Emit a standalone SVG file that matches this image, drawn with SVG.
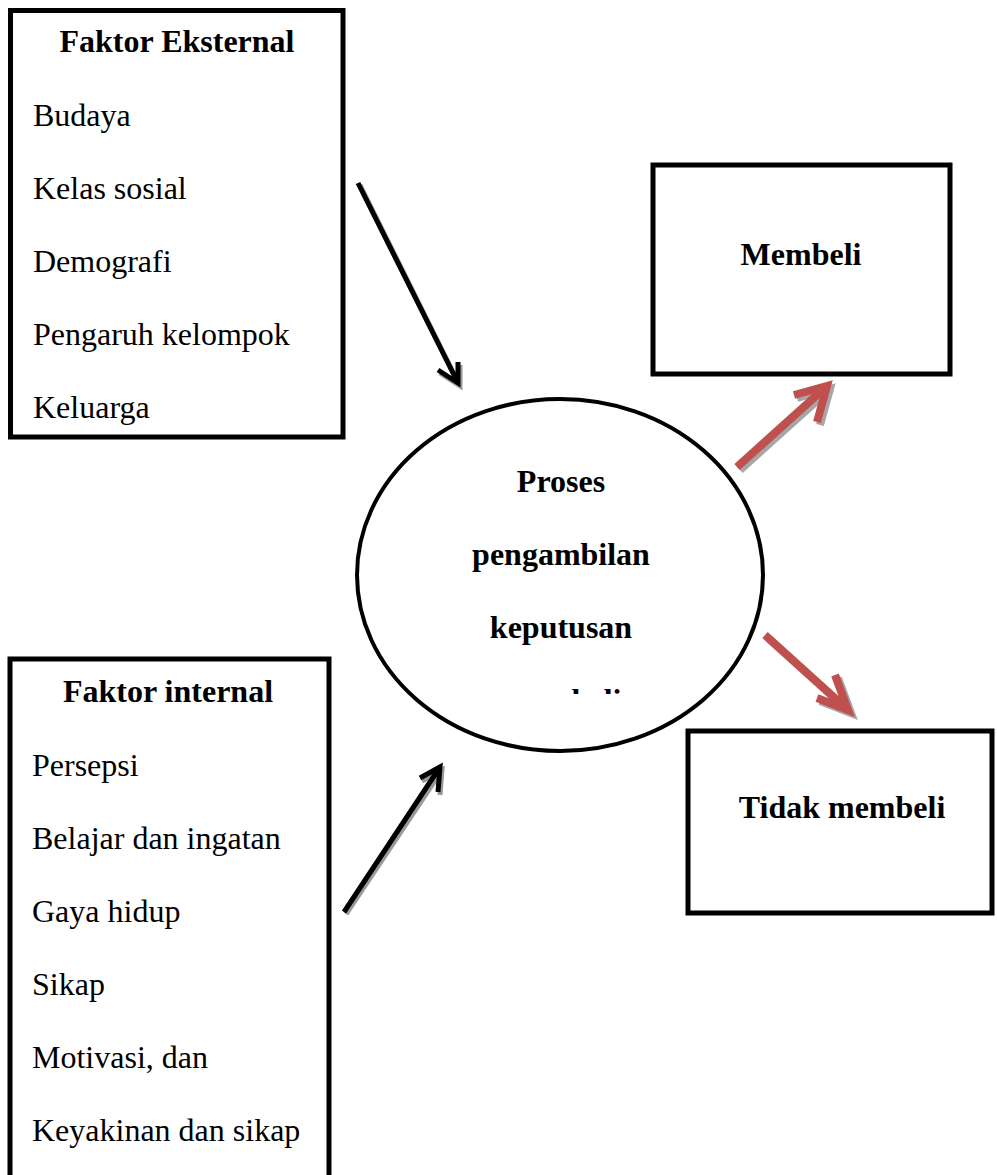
<svg xmlns="http://www.w3.org/2000/svg" width="997" height="1175" viewBox="0 0 997 1175">
<style>
  text { font-family: "Liberation Serif", "Times New Roman", serif; font-size: 32px; fill: #000; }
  .b { font-weight: bold; }
  .mid { text-anchor: middle; }
  .box { fill: #fff; stroke: #000; stroke-width: 5; }
  .blk { fill: none; stroke: #000; stroke-width: 5; stroke-linejoin: miter; stroke-linecap: butt; }
  .blksh { fill: none; stroke: #9a9a9a; stroke-width: 5; stroke-linejoin: miter; }
  .red { fill: none; stroke: #C0504D; stroke-width: 8; stroke-linejoin: miter; stroke-linecap: butt; }
  .redsh { fill: none; stroke: #a6a6a6; stroke-width: 8; stroke-linejoin: miter; }
</style>
<defs>
  <clipPath id="ellText"><rect x="350" y="400" width="420" height="294"/></clipPath>
</defs>
<rect width="997" height="1175" fill="#fff"/>

<g id="external">
  <rect class="box" x="10.5" y="10.5" width="332.5" height="426.5"/>
  <text class="b mid" x="177" y="52">Faktor Eksternal</text>
  <text x="33" y="126">Budaya</text>
  <text x="33" y="199">Kelas sosial</text>
  <text x="33" y="272">Demografi</text>
  <text x="33" y="345">Pengaruh kelompok</text>
  <text x="33" y="418">Keluarga</text>
</g>

<g id="internal">
  <rect class="box" x="10" y="659" width="319" height="600"/>
  <text class="b mid" x="168" y="702">Faktor internal</text>
  <text x="32" y="776">Persepsi</text>
  <text x="32" y="849">Belajar dan ingatan</text>
  <text x="32" y="922">Gaya hidup</text>
  <text x="32" y="995">Sikap</text>
  <text x="32" y="1068">Motivasi, dan</text>
  <text x="32" y="1141">Keyakinan dan sikap</text>
</g>

<g id="process">
  <ellipse cx="560" cy="575" rx="203" ry="176" fill="#fff" stroke="#000" stroke-width="4"/>
  <text class="b mid" x="561" y="492">Proses</text>
  <text class="b mid" x="561" y="565">pengambilan</text>
  <text class="b mid" x="561" y="638">keputusan</text>
  <g clip-path="url(#ellText)">
    <text class="b" x="513" y="711">pembelian</text>
  </g>
</g>

<g id="membeli">
  <rect class="box" x="653" y="165" width="297" height="209"/>
  <text class="b mid" x="801" y="265">Membeli</text>
</g>

<g id="tidak-membeli">
  <rect class="box" x="688" y="731" width="304" height="182"/>
  <text class="b mid" x="842" y="818">Tidak membeli</text>
</g>

<g id="connectors">
  <!-- external -> process -->
  <path class="blksh" d="M360,185 L460,386 M440,373 L460,386 L460,365"/>
  <path class="blk" d="M358,183 L458,383 M438,370 L458,383 L458,362"/>
  <!-- internal -> process -->
  <path class="blksh" d="M346,914 L442,770 M422,781 L442,770 L440,795"/>
  <path class="blk" d="M344,912 L440,767 M420,778 L440,767 L438,792"/>
  <!-- process -> membeli -->
  <path class="redsh" d="M740,470 L830,389 M797,398 L830,389 L820,425"/>
  <path class="red" d="M737,467 L827,386 M794,395 L827,386 L817,422"/>
  <!-- process -> tidak membeli -->
  <path class="redsh" d="M768,638 L851,713 M820,701 L851,713 L838,678"/>
  <path class="red" d="M765,635 L848,710 M817,698 L848,710 L835,675"/>
</g>
</svg>
